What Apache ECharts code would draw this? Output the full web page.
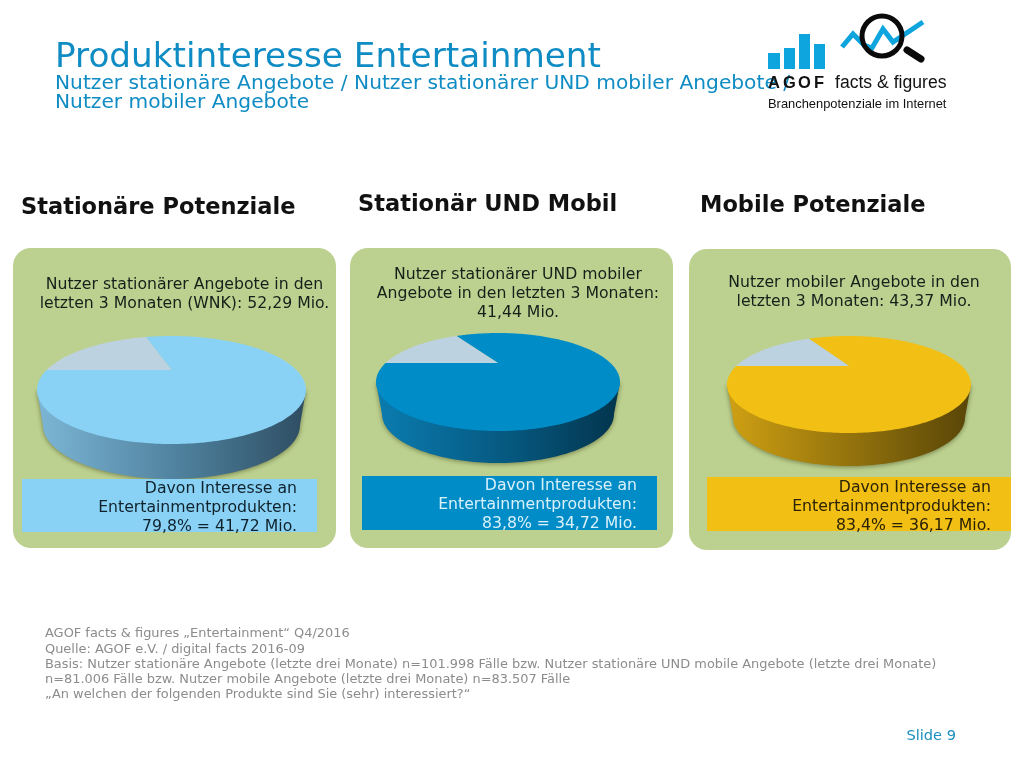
<!DOCTYPE html>
<html>
<head>
<meta charset="utf-8">
<title>Produktinteresse Entertainment</title>
<script src="https://cdn.jsdelivr.net/npm/echarts@6/dist/echarts.min.js"></script>
<style>
    html, body { margin: 0; padding: 0; background: #fff; }
    #chart { width: 1024px; height: 768px; }
</style>
</head>
<body>
<div id="chart"></div>
<script>
// values
let panelTitles = ['Stationäre Potenziale', 'Stationär UND Mobil', 'Mobile Potenziale']
let interested = [79.8, 83.8, 83.4]
let notInterested = [20.2, 16.2, 16.6]
let infoLines = [
    ['Nutzer stationärer Angebote in den', 'letzten 3 Monaten (WNK): 52,29 Mio.'],
    ['Nutzer stationärer UND mobiler', 'Angebote in den letzten 3 Monaten:', '41,44 Mio.'],
    ['Nutzer mobiler Angebote in den', 'letzten 3 Monaten: 43,37 Mio.']
]
let shareLines = ['79,8% = 41,72 Mio.', '83,8% = 34,72 Mio.', '83,4% = 36,17 Mio.']
let footerLines = [
    'AGOF facts & figures „Entertainment“ Q4/2016',
    'Quelle: AGOF e.V. / digital facts 2016-09',
    'Basis: Nutzer stationäre Angebote (letzte drei Monate) n=101.998 Fälle bzw. Nutzer stationäre UND mobile Angebote (letzte drei Monate)',
    'n=81.006 Fälle bzw. Nutzer mobile Angebote (letzte drei Monate) n=83.507 Fälle',
    '„An welchen der folgenden Produkte sind Sie (sehr) interessiert?“'
]

// layout of the three panels
let pies = [
    {cx: 171.5, cy: 390, rx: 134.5, ry: 54, apex: -20, depth: 35},
    {cx: 498, cy: 382, rx: 122, ry: 49, apex: -19, depth: 32},
    {cx: 849, cy: 384.5, rx: 122, ry: 48.5, apex: -18.5, depth: 33}
]
let colors = ['#89d2f5', '#008cc7', '#f2bf15']
let restColor = '#bdd2e0'
let wallColors = [
    ['#7db6d6', '#4d7f9b', '#2e4d62'],
    ['#0a7cb0', '#06587f', '#03344c'],
    ['#cfa013', '#8e6f0c', '#584507']
]
let panels = [
    {x: 13, y: 248, w: 323, h: 300},
    {x: 350, y: 248, w: 323, h: 300},
    {x: 689, y: 249, w: 322, h: 301}
]
let boxes = [
    {x: 22, y: 479, w: 295, h: 53, right: 297, first: 489, text: '#10222c'},
    {x: 362, y: 476, w: 295, h: 54, right: 637, first: 486, text: '#d9f1fb'},
    {x: 707, y: 477, w: 304, h: 54, right: 991, first: 488, text: '#2a2205'}
]
let titleSpots = [[21, 208], [358, 205], [700, 206]]
let infoSpots = [[184.5, 285], [518, 275], [854, 283]]

// the top of the pie is tilted, slices start at the left and go clockwise
function slicePoints(pie, from, to) {
    let points = [[pie.cx, pie.cy + pie.apex]]
    let k = pie.apex / pie.ry
    for (let deg = from; ; deg += 1) {
        let t = Math.min(deg, to) * Math.PI / 180
        let b = k * Math.sin(t)
        let s = -b + Math.sqrt(b * b - (k * k - 1))
        points.push([
            pie.cx + s * Math.cos(t) * pie.rx,
            pie.cy + (k + s * Math.sin(t)) * pie.ry
        ])
        if (deg >= to) break
    }
    return points
}

function wallPoints(pie) {
    let points = [[pie.cx - pie.rx, pie.cy]]
    for (let deg = 180; deg >= 0; deg -= 2) {
        let t = deg * Math.PI / 180
        points.push([
            pie.cx + Math.cos(t) * (pie.rx - 6),
            pie.cy + pie.depth + Math.sin(t) * pie.ry
        ])
    }
    points.push([pie.cx + pie.rx, pie.cy])
    return points
}

function renderWall(params, api) {
    let i = api.value(0)
    let c = wallColors[i]
    return {
        type: 'polygon',
        shape: {points: wallPoints(pies[i])},
        style: {
            fill: new echarts.graphic.LinearGradient(0, 0, 1, 0, [
                {offset: 0, color: c[0]},
                {offset: 0.55, color: c[1]},
                {offset: 1, color: c[2]}
            ]),
            shadowBlur: 5,
            shadowOffsetY: 1,
            shadowColor: 'rgba(60,60,20,0.55)'
        }
    }
}

function renderSlice(params, api) {
    let i = api.value(0)
    let rest = api.value(1) * 3.6
    return {
        type: 'group',
        children: [
            {
                type: 'polygon',
                shape: {points: slicePoints(pies[i], 180 + rest, 540)},
                style: {fill: colors[i]}
            },
            {
                type: 'polygon',
                shape: {points: slicePoints(pies[i], 180, 180 + rest)},
                style: {fill: restColor}
            }
        ]
    }
}

function label(text, x, y, font, fill, align) {
    return {
        type: 'text',
        z: 10,
        silent: true,
        style: {text: text, x: x, y: y, font: font, fill: fill, textAlign: align || 'left', textVerticalAlign: 'middle'}
    }
}

let graphics = []
panels.forEach(p => {
    graphics.push({
        type: 'rect', z: 0, silent: true,
        shape: {x: p.x, y: p.y, width: p.w, height: p.h, r: 18},
        style: {fill: '#bcd18f'}
    })
})
boxes.forEach((b, i) => {
    graphics.push({
        type: 'rect', z: 5, silent: true,
        shape: {x: b.x, y: b.y, width: b.w, height: b.h},
        style: {fill: colors[i]}
    })
    let font = '15.7px "DejaVu Sans"'
    graphics.push(label('Davon Interesse an', b.right, b.first, font, b.text, 'right'))
    graphics.push(label('Entertainmentprodukten:', b.right, b.first + 19, font, b.text, 'right'))
    graphics.push(label(shareLines[i], b.right, b.first + 38, font, b.text, 'right'))
})
panelTitles.forEach((t, i) => {
    graphics.push(label(t, titleSpots[i][0], titleSpots[i][1], 'bold 22.5px "DejaVu Sans"', '#111'))
})
infoLines.forEach((lines, i) => {
    lines.forEach((t, j) => {
        graphics.push(label(t, infoSpots[i][0], infoSpots[i][1] + j * 19, '15.7px "DejaVu Sans"', '#15201a', 'center'))
    })
})
footerLines.forEach((t, i) => {
    graphics.push(label(t, 45, 634 + i * 15.25, '12.93px "DejaVu Sans"', '#8c8c8c'))
})
graphics.push(label('Produktinteresse Entertainment', 55, 58, '34.25px "DejaVu Sans"', '#0f8cc4'))
graphics.push(label('Nutzer stationäre Angebote / Nutzer stationärer UND mobiler Angebote /', 55, 84, '20.2px "DejaVu Sans"', '#0f8cc4'))
graphics.push(label('Nutzer mobiler Angebote', 55, 103, '20.2px "DejaVu Sans"', '#0f8cc4'))
graphics.push(label('Slide 9', 956, 736, '14.6px "DejaVu Sans"', '#1a8fc0', 'right'))

// logo
let logoBars = [[768, 53, 12], [784, 48, 11], [799, 34, 11], [814, 44, 11]]
logoBars.forEach(b => {
    graphics.push({
        type: 'rect', z: 6, silent: true,
        shape: {x: b[0], y: b[1], width: b[2], height: 69 - b[1]},
        style: {fill: '#0ea5df'}
    })
})
graphics.push({
    type: 'polyline', z: 6, silent: true,
    shape: {points: [[842, 47], [853, 34], [864, 45], [872, 48], [883, 29], [893, 42], [923, 22]]},
    style: {stroke: '#0ea5df', lineWidth: 5, fill: null}
})
graphics.push({
    type: 'circle', z: 7, silent: true,
    shape: {cx: 882, cy: 36, r: 20},
    style: {stroke: '#0a0a0a', lineWidth: 5, fill: null}
})
graphics.push({
    type: 'line', z: 7, silent: true,
    shape: {x1: 907, y1: 50, x2: 921, y2: 59},
    style: {stroke: '#0a0a0a', lineWidth: 7, lineCap: 'round'}
})
let logoLetters = [['A', 768], ['G', 783], ['O', 798], ['F', 814]]
logoLetters.forEach(l => {
    graphics.push(label(l[0], l[1], 83, 'bold 16.5px "Liberation Sans"', '#111'))
})
graphics.push(label('facts & figures', 835, 83, '17.6px "Liberation Sans"', '#111'))
graphics.push(label('Branchenpotenziale im Internet', 768, 104, '12.9px "Liberation Sans"', '#111'))

let chart = echarts.init(document.getElementById('chart'), null, {renderer: 'canvas'})
chart.setOption({
    animation: false,
    backgroundColor: '#fff',
    graphic: {elements: graphics},
    series: [
        {
            type: 'custom',
            coordinateSystem: 'none',
            silent: true,
            z: 2,
            renderItem: renderWall,
            data: interested.map((v, i) => [i, v])
        },
        {
            type: 'custom',
            coordinateSystem: 'none',
            silent: true,
            z: 3,
            renderItem: renderSlice,
            data: notInterested.map((v, i) => [i, v])
        }
    ]
})
</script>
</body>
</html>
